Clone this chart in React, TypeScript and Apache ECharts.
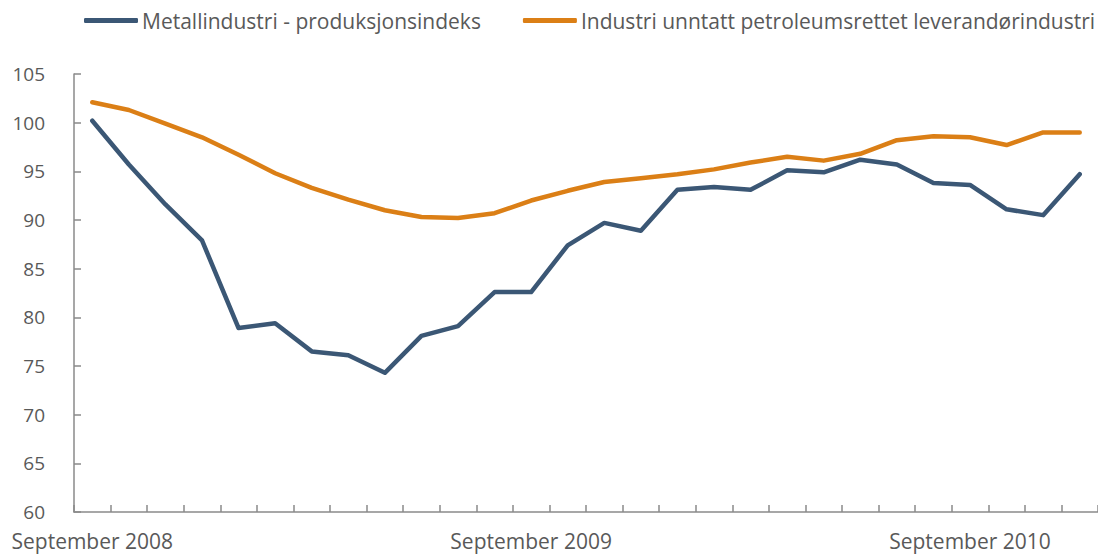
import React, { useEffect, useRef } from "react";
import * as echarts from "echarts";

const months = [
  "September 2008", "Oktober 2008", "November 2008", "Desember 2008",
  "Januar 2009", "Februar 2009", "Mars 2009", "April 2009", "Mai 2009", "Juni 2009", "Juli 2009", "August 2009",
  "September 2009", "Oktober 2009", "November 2009", "Desember 2009",
  "Januar 2010", "Februar 2010", "Mars 2010", "April 2010", "Mai 2010", "Juni 2010", "Juli 2010", "August 2010",
  "September 2010", "Oktober 2010", "November 2010", "Desember 2010",
];

const metallName = "Metallindustri - produksjonsindeks";
const industriName = "Industri unntatt petroleumsrettet leverandørindustri";

const metallValues = [
  100.2, 95.7, 91.6, 87.9, 78.9, 79.4, 76.5, 76.1, 74.3, 78.1, 79.1, 82.6, 82.6, 87.4,
  89.7, 88.9, 93.1, 93.4, 93.1, 95.1, 94.9, 96.2, 95.7, 93.8, 93.6, 91.1, 90.5, 94.7,
];

const industriValues = [
  102.1, 101.3, 99.9, 98.5, 96.7, 94.8, 93.3, 92.1, 91.0, 90.3, 90.2, 90.7, 92.0, 93.0,
  93.9, 94.3, 94.7, 95.2, 95.9, 96.5, 96.1, 96.8, 98.2, 98.6, 98.5, 97.7, 99.0, 99.0,
];

const FONT = "'Open Sans', 'Noto Sans', sans-serif";
const TEXT = "#595959";
const AXIS = "#8a8a8a";

export default function App() {
  const ref = useRef<HTMLDivElement>(null);
  useEffect(() => {
    if (!ref.current) return;
    const chart = echarts.init(ref.current, undefined, { renderer: "svg" });
    chart.setOption({
      animation: false,
      backgroundColor: "#ffffff",
      textStyle: { fontFamily: FONT },
      legend: {
        left: 84,
        top: 10,
        padding: 0,
        itemGap: 42,
        itemWidth: 54,
        itemHeight: 5,
        icon: "roundRect",
        textStyle: { color: TEXT, fontSize: 21, fontFamily: FONT, padding: [0, 0, 0, -1] },
        data: [metallName, industriName],
      },
      grid: { left: 74, top: 74, width: 1026, bottom: 42, containLabel: false },
      xAxis: {
        type: "category",
        data: months,
        boundaryGap: true,
        axisLine: { lineStyle: { color: AXIS, width: 1.5 } },
        axisTick: { show: true, inside: true, length: 7, interval: 0, lineStyle: { color: AXIS, width: 1.5 } },
        axisLabel: { interval: 11, color: TEXT, fontSize: 21, fontFamily: FONT, margin: 18 },
        splitLine: { show: false },
      },
      yAxis: {
        type: "value",
        min: 60,
        max: 105,
        interval: 5,
        axisLine: { show: true, lineStyle: { color: AXIS, width: 1.5 } },
        axisTick: { show: true, inside: true, length: 7, lineStyle: { color: AXIS, width: 1.5 } },
        axisLabel: { color: TEXT, fontSize: 19, fontFamily: FONT, margin: 29 },
        splitLine: { show: false },
      },
      series: [
        {
          name: metallName,
          type: "line",
          data: metallValues,
          symbol: "none",
          itemStyle: { color: "#3b5775" },
          lineStyle: { color: "#3b5775", width: 4.5, cap: "round", join: "round" },
        },
        {
          name: industriName,
          type: "line",
          data: industriValues,
          symbol: "none",
          itemStyle: { color: "#db7f16" },
          lineStyle: { color: "#db7f16", width: 4.5, cap: "round", join: "round" },
        },
      ],
    });
    return () => chart.dispose();
  }, []);
  return (
    <div
      ref={ref}
      style={{ position: "absolute", left: 0, top: 0, width: 1098, height: 554, background: "#fff" }}
    />
  );
}
